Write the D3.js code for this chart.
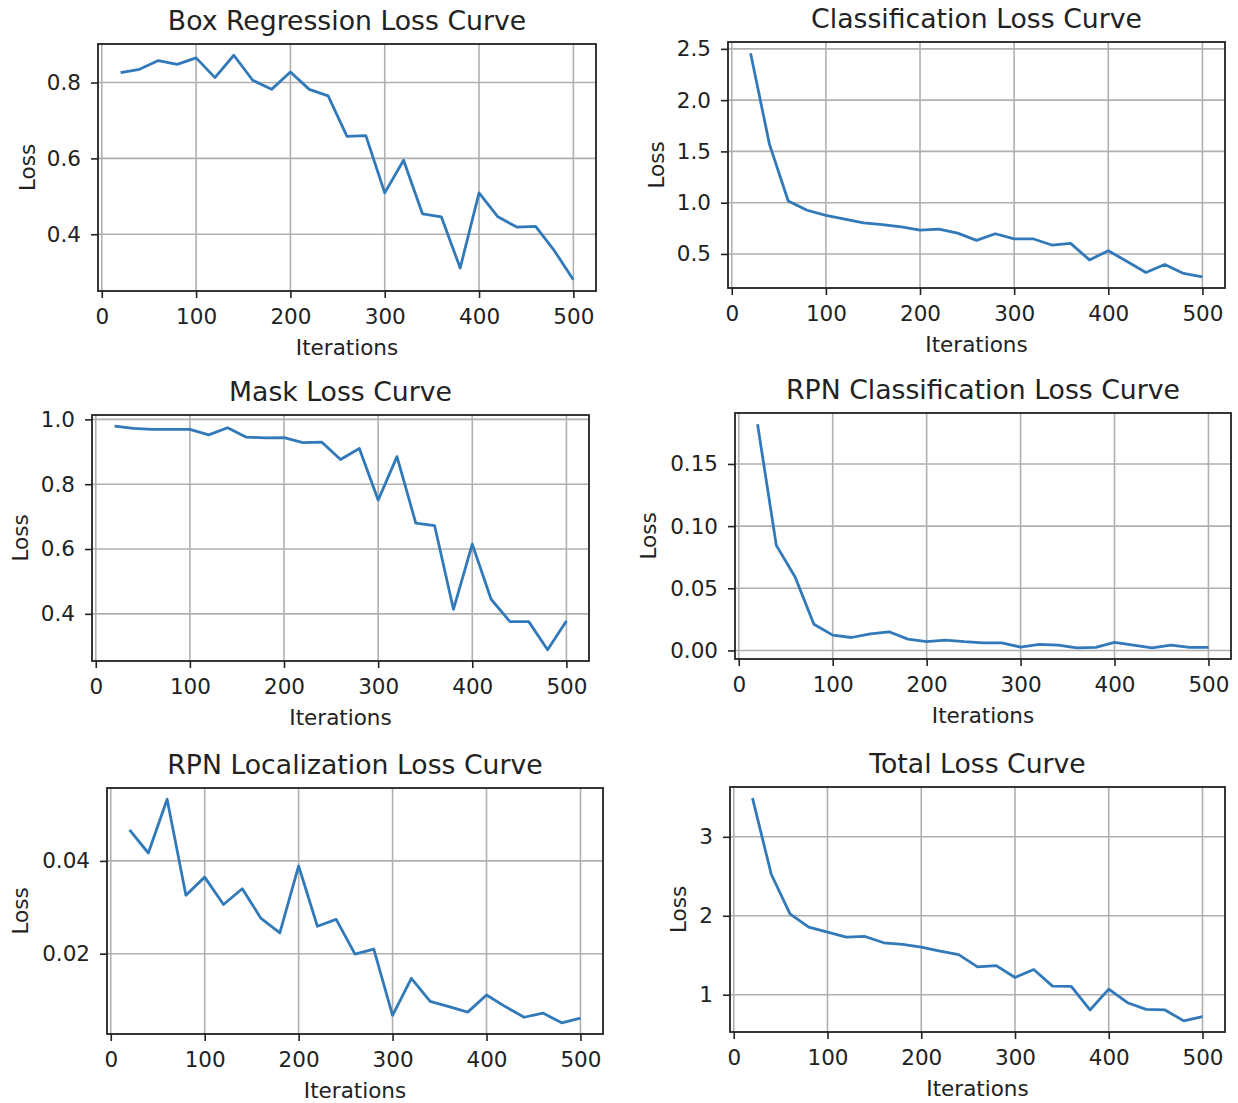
<!DOCTYPE html>
<html>
<head>
<meta charset="utf-8">
<script src="https://cdn.jsdelivr.net/npm/d3@7"></script>
<style>
  body { margin: 0; background: #fff; }
  text { font-family: "DejaVu Sans", sans-serif; fill: #222; }
</style>
</head>
<body>
<div class="chart"></div>
<script>
// iterations logged every 20 steps
var iterations = [20, 40, 60, 80, 100, 120, 140, 160, 180, 200, 220, 240, 260,
                  280, 300, 320, 340, 360, 380, 400, 420, 440, 460, 480, 500];

var boxLoss = [0.826, 0.835, 0.858, 0.848, 0.865, 0.813, 0.872, 0.806, 0.782, 0.828,
               0.782, 0.765, 0.658, 0.660, 0.509, 0.595, 0.454, 0.446, 0.311, 0.509,
               0.446, 0.419, 0.421, 0.356, 0.280];
var clsLoss = [2.458, 1.571, 1.016, 0.926, 0.877, 0.839, 0.803, 0.787, 0.765, 0.732,
               0.742, 0.703, 0.632, 0.697, 0.648, 0.648, 0.587, 0.603, 0.442, 0.532,
               0.426, 0.319, 0.397, 0.310, 0.277];
var maskLoss = [0.979, 0.972, 0.969, 0.969, 0.969, 0.952, 0.974, 0.945, 0.943, 0.944,
                0.928, 0.930, 0.876, 0.910, 0.751, 0.885, 0.680, 0.672, 0.414, 0.615,
                0.445, 0.376, 0.376, 0.289, 0.378];
var rpnClsLoss = [0.182, 0.0845, 0.059, 0.021, 0.0123, 0.0104, 0.0134, 0.015, 0.0091, 0.007,
                  0.0083, 0.007, 0.0061, 0.0061, 0.0027, 0.0048, 0.0043, 0.0021, 0.0024, 0.0064,
                  0.0043, 0.0021, 0.0043, 0.0024, 0.0024];
var rpnLocLoss = [0.0467, 0.0417, 0.0533, 0.0326, 0.0365, 0.0306, 0.0340, 0.0276, 0.0245, 0.0389,
                  0.0259, 0.0274, 0.0199, 0.0210, 0.0067, 0.0147, 0.0097, 0.0086, 0.0074, 0.0111,
                  0.0086, 0.0063, 0.0072, 0.0051, 0.0061];
var totalLoss = [3.49, 2.526, 2.023, 1.855, 1.792, 1.73, 1.738, 1.658, 1.637, 1.604,
                 1.553, 1.507, 1.352, 1.369, 1.218, 1.319, 1.109, 1.105, 0.807, 1.071,
                 0.899, 0.815, 0.807, 0.669, 0.723];

var xTicks = [0, 100, 200, 300, 400, 500];
var boxTicks = [0.4, 0.6, 0.8];
var clsTicks = [0.5, 1.0, 1.5, 2.0, 2.5];
var maskTicks = [0.4, 0.6, 0.8, 1.0];
var rpnClsTicks = [0.00, 0.05, 0.10, 0.15];
var rpnLocTicks = [0.02, 0.04];
var totalTicks = [1, 2, 3];

var titles = ["Box Regression Loss Curve", "Classification Loss Curve", "Mask Loss Curve",
              "RPN Classification Loss Curve", "RPN Localization Loss Curve", "Total Loss Curve"];

// panel layout (pixel boxes of each axes)
var panels = [
  {title: titles[0], values: boxLoss,    ticks: boxTicks,    fmt: ".1f", left: 98,  top: 44,  right: 596,  bottom: 291,  ylab: 27},
  {title: titles[1], values: clsLoss,    ticks: clsTicks,    fmt: ".1f", left: 728, top: 42,  right: 1225, bottom: 288,  ylab: 656},
  {title: titles[2], values: maskLoss,   ticks: maskTicks,   fmt: ".1f", left: 92,  top: 415, right: 589,  bottom: 661,  ylab: 20},
  {title: titles[3], values: rpnClsLoss, ticks: rpnClsTicks, fmt: ".2f", left: 735, top: 413, right: 1231, bottom: 659,  ylab: 648},
  {title: titles[4], values: rpnLocLoss, ticks: rpnLocTicks, fmt: ".2f", left: 107, top: 788, right: 603,  bottom: 1034, ylab: 20},
  {title: titles[5], values: totalLoss,  ticks: totalTicks,  fmt: "d",   left: 730, top: 787, right: 1225, bottom: 1032, ylab: 678}
];

const svg = d3.select(".chart").append("svg")
  .attr("width", 1238)
  .attr("height", 1103);

svg.append("rect").attr("width", 1238).attr("height", 1103).attr("fill", "#fff");

panels.forEach(function(p) {
  var w = p.right - p.left, h = p.bottom - p.top;
  var g = svg.append("g").attr("transform", "translate(" + p.left + "," + p.top + ")");

  // matplotlib style 5% margins
  var ext = d3.extent(p.values);
  var pad = (ext[1] - ext[0]) * 0.05;
  var y = d3.scaleLinear().domain([ext[0] - pad, ext[1] + pad]).range([h, 0]);
  var x = d3.scaleLinear().domain([20 - 24, 500 + 24]).range([0, w]);

  // grid
  g.selectAll("line.vgrid").data(xTicks).enter().append("line")
    .attr("x1", function(d){ return x(d); }).attr("x2", function(d){ return x(d); })
    .attr("y1", 0).attr("y2", h)
    .attr("stroke", "#b0b0b0").attr("stroke-width", 1.6);
  g.selectAll("line.hgrid").data(p.ticks).enter().append("line")
    .attr("x1", 0).attr("x2", w)
    .attr("y1", function(d){ return y(d); }).attr("y2", function(d){ return y(d); })
    .attr("stroke", "#b0b0b0").attr("stroke-width", 1.6);

  // the curve
  var line = d3.line()
    .x(function(d, i){ return x(iterations[i]); })
    .y(function(d){ return y(d); });
  g.append("path")
    .attr("fill", "none")
    .attr("stroke", "#3179b8")
    .attr("stroke-width", 2.8)
    .attr("stroke-linejoin", "round")
    .attr("d", line(p.values));

  // frame
  g.append("rect").attr("width", w).attr("height", h)
    .attr("fill", "none").attr("stroke", "#222").attr("stroke-width", 1.8);

  var xAxis = g.append("g").attr("transform", "translate(0," + h + ")")
    .call(d3.axisBottom(x).tickValues(xTicks).tickSize(7).tickPadding(11).tickFormat(d3.format("d")));
  var yAxis = g.append("g")
    .call(d3.axisLeft(y).tickValues(p.ticks).tickSize(7).tickPadding(10).tickFormat(d3.format(p.fmt)));
  [xAxis, yAxis].forEach(function(a) {
    a.select(".domain").remove();
    a.selectAll(".tick line").attr("stroke", "#222").attr("stroke-width", 1.6);
    a.selectAll(".tick text").attr("font-size", 21.5).attr("fill", "#222")
      .style("font-family", "'DejaVu Sans', sans-serif");
  });

  // labels
  svg.append("text")
    .attr("x", p.left + w / 2).attr("y", p.top - 14.5)
    .attr("text-anchor", "middle").attr("font-size", 26.7)
    .text(p.title);
  svg.append("text")
    .attr("x", p.left + w / 2).attr("y", p.bottom + 64)
    .attr("text-anchor", "middle").attr("font-size", 21.5)
    .text("Iterations");
  svg.append("text")
    .attr("transform", "translate(" + p.ylab + "," + (p.top + h / 2) + ") rotate(-90)")
    .attr("text-anchor", "middle").attr("dy", "0.35em").attr("font-size", 21.5)
    .text("Loss");
});
</script>
</body>
</html>
